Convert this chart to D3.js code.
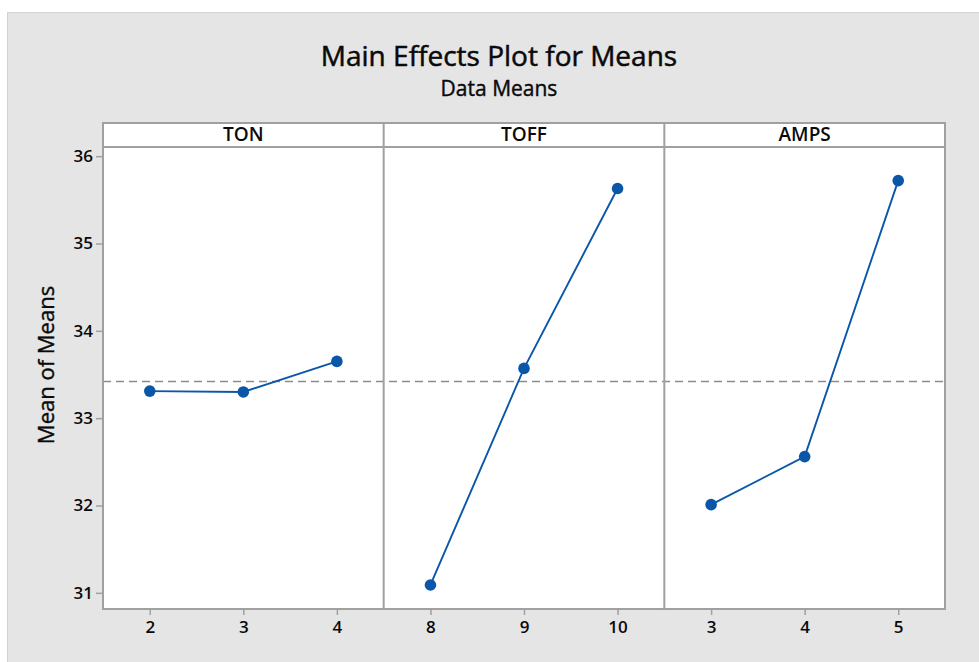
<!DOCTYPE html>
<html>
<head>
<meta charset="utf-8">
<script src="https://cdn.jsdelivr.net/npm/d3@7"></script>
<style>
  body { margin: 0; background: #fff; }
  svg { display: block; }
</style>
</head>
<body>
<svg></svg>
<script>
// Factors and their levels, with the mean read for each level
const factors = ["TON", "TOFF", "AMPS"];
const tonLevels = [2, 3, 4];
const toffLevels = [8, 9, 10];
const ampsLevels = [3, 4, 5];
const tonMeans = [33.31, 33.30, 33.65];
const toffMeans = [31.09, 33.57, 35.63];
const ampsMeans = [32.01, 32.56, 35.72];
const yTicks = [31, 32, 33, 34, 35, 36];

const levels = [tonLevels, toffLevels, ampsLevels];
const means = [tonMeans, toffMeans, ampsMeans];

// overall mean for the dashed reference line
const grandMean = d3.mean(tonMeans);

const W = 979, H = 662;
const plotLeft = 103, plotRight = 945;
const headerTop = 123, plotTop = 147, plotBottom = 609;
const panelW = (plotRight - plotLeft) / factors.length;
const font = "'Open Sans', 'Noto Sans', sans-serif";
const axisGrey = '#a0a0a0';
const blue = '#0a56a8';
const ink = '#0a0a0a';

const svg = d3.select('svg').
attr('width', W).
attr('height', H).
attr('font-family', font);

// grey frame
svg.append('rect').
attr('x', 7.5).
attr('y', 12.5).
attr('width', W - 7).
attr('height', H - 12).
attr('fill', '#e5e5e5').
attr('stroke', '#d2d2d2');

// titles (thin stroke to get the heavier look of the original)
svg.append('text').
attr('x', 499).
attr('y', 66).
attr('text-anchor', 'middle').
attr('font-size', 28).
attr('fill', ink).
attr('stroke', ink).
attr('stroke-width', 0.5).
text('Main Effects Plot for Means');

svg.append('text').
attr('x', 499).
attr('y', 96).
attr('text-anchor', 'middle').
attr('font-size', 21).
attr('fill', ink).
attr('stroke', ink).
attr('stroke-width', 0.4).
text('Data Means');

// shared y scale
const y = d3.scaleLinear().
domain([30.815, 36.105]).
range([plotBottom, plotTop]);

// white plot area
svg.append('rect').
attr('x', plotLeft).
attr('y', headerTop).
attr('width', plotRight - plotLeft).
attr('height', plotBottom - headerTop).
attr('fill', '#fff');

// y axis
const yAxis = d3.axisLeft(y).
tickValues(yTicks).
tickSize(7).
tickPadding(3).
tickFormat(d3.format('d'));

const yG = svg.append('g').
attr('transform', `translate(${plotLeft}, 0)`).
call(yAxis);
yG.select('.domain').remove();
yG.selectAll('line').attr('stroke', axisGrey).attr('stroke-width', 1.5);
yG.selectAll('text').
attr('font-family', font).
attr('font-size', 17).
attr('font-weight', 600).
attr('fill', ink);

// y axis label
svg.append('text').
attr('transform', `translate(54, 365) rotate(-90)`).
attr('text-anchor', 'middle').
attr('font-size', 22).
attr('fill', ink).
attr('stroke', ink).
attr('stroke-width', 0.4).
text('Mean of Means');

// dashed grand mean line across all panels
svg.append('line').
attr('x1', plotLeft).
attr('x2', plotRight).
attr('y1', y(grandMean)).
attr('y2', y(grandMean)).
attr('stroke', '#8c8c8c').
attr('stroke-width', 1.5).
attr('stroke-dasharray', '8,5');

// one panel per factor
factors.forEach((f, i) => {
  const x0 = plotLeft + i * panelW;
  const x = d3.scalePoint().
  domain(levels[i]).
  range([x0, x0 + panelW]).
  padding(0.5);

  const xAxis = d3.axisBottom(x).
  tickSize(6).
  tickPadding(6);

  const xG = svg.append('g').
  attr('transform', `translate(0, ${plotBottom})`).
  call(xAxis);
  xG.select('.domain').remove();
  xG.selectAll('line').attr('stroke', axisGrey).attr('stroke-width', 1.5);
  xG.selectAll('text').
  attr('font-family', font).
  attr('font-size', 17).
  attr('font-weight', 600).
  attr('fill', ink);

  // header label
  svg.append('text').
  attr('x', x0 + panelW / 2).
  attr('y', 141).
  attr('text-anchor', 'middle').
  attr('font-size', 19).
  attr('font-weight', 600).
  attr('fill', ink).
  text(f);

  const pts = levels[i].map((l, j) => [x(l), y(means[i][j])]);

  svg.append('path').
  datum(pts).
  attr('fill', 'none').
  attr('stroke', blue).
  attr('stroke-width', 1.9).
  attr('d', d3.line());

  svg.append('g').
  selectAll('circle').
  data(pts).
  enter().append('circle').
  attr('cx', d => d[0]).
  attr('cy', d => d[1]).
  attr('r', 5.8).
  attr('fill', blue);
});

// frame lines of the panels
const frame = svg.append('g').
attr('fill', 'none').
attr('stroke', axisGrey).
attr('stroke-width', 2);

frame.append('rect').
attr('x', plotLeft).
attr('y', headerTop).
attr('width', plotRight - plotLeft).
attr('height', plotBottom - headerTop);

frame.append('line').
attr('x1', plotLeft).
attr('x2', plotRight).
attr('y1', plotTop).
attr('y2', plotTop);

d3.range(1, factors.length).forEach(i => {
  frame.append('line').
  attr('x1', plotLeft + i * panelW).
  attr('x2', plotLeft + i * panelW).
  attr('y1', headerTop).
  attr('y2', plotBottom);
});
</script>
</body>
</html>
